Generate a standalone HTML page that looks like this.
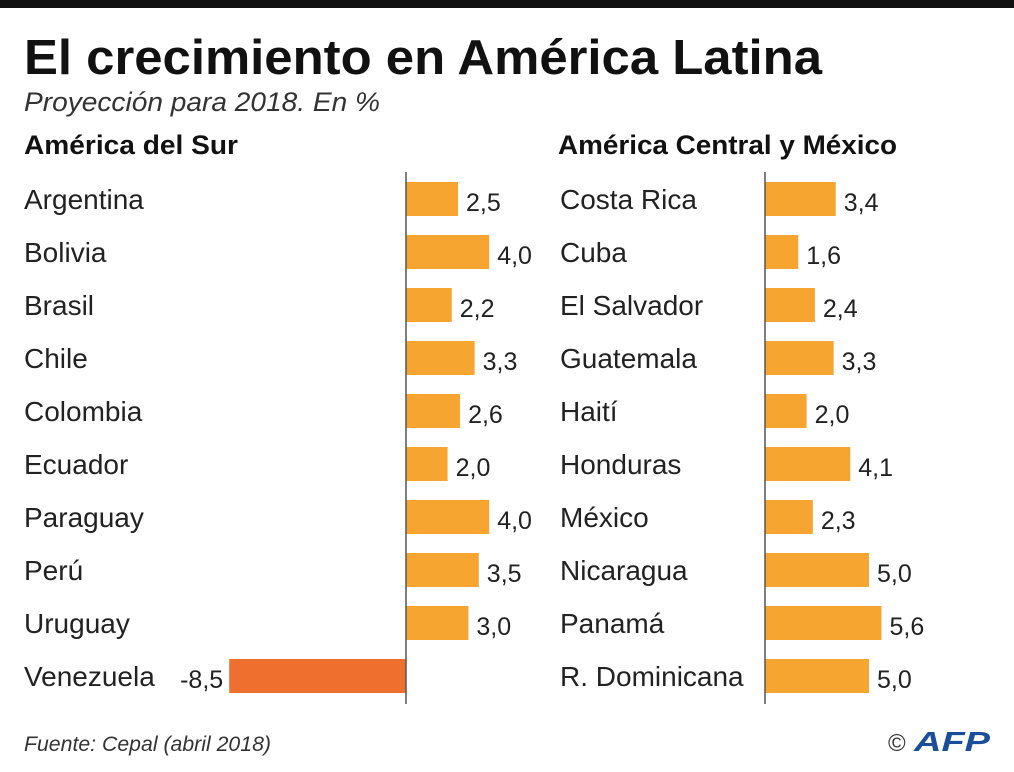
<!DOCTYPE html>
<html><head><meta charset="utf-8"><style>
body{margin:0;width:1014px;height:767px;background:#fff;overflow:hidden;font-family:"Liberation Sans",sans-serif;}
svg text{font-family:"Liberation Sans",sans-serif;}
</style></head><body>
<svg width="1014" height="767" viewBox="0 0 1014 767">
<rect x="0" y="0" width="1014" height="8" fill="#111"/>
<text x="24" y="74" font-size="49" font-weight="bold" fill="#111" textLength="798" lengthAdjust="spacingAndGlyphs">El crecimiento en América Latina</text>
<text x="24" y="111" font-size="27" font-style="italic" fill="#333" textLength="356" lengthAdjust="spacingAndGlyphs">Proyección para 2018. En %</text>
<text x="24" y="154" font-size="27" font-weight="bold" fill="#111" textLength="214" lengthAdjust="spacingAndGlyphs">América del Sur</text>
<text x="558" y="154" font-size="27" font-weight="bold" fill="#111" textLength="339" lengthAdjust="spacingAndGlyphs">América Central y México</text>
<g id="left"></g><g id="right"></g>
<text x="24" y="751" font-size="21" font-style="italic" fill="#333" textLength="247" lengthAdjust="spacingAndGlyphs">Fuente: Cepal (abril 2018)</text>
<text x="888" y="751" font-size="24" fill="#333">©</text>
<text x="914" y="751" font-size="28" font-weight="bold" font-style="italic" fill="#1a4e9a" textLength="76" lengthAdjust="spacingAndGlyphs">AFP</text>
</svg>
<script>
const southCountries=["Argentina","Bolivia","Brasil","Chile","Colombia","Ecuador","Paraguay","Perú","Uruguay","Venezuela"];
const southValues=[2.5,4.0,2.2,3.3,2.6,2.0,4.0,3.5,3.0,-8.5];
const centralCountries=["Costa Rica","Cuba","El Salvador","Guatemala","Haití","Honduras","México","Nicaragua","Panamá","R. Dominicana"];
const centralValues=[3.4,1.6,2.4,3.3,2.0,4.1,2.3,5.0,5.6,5.0];
const NS="http://www.w3.org/2000/svg";
function mk(tag,attrs,parent){const e=document.createElementNS(NS,tag);for(const k in attrs)e.setAttribute(k,attrs[k]);parent.appendChild(e);return e;}
function panel(gid,cats,vals,labelX,zeroX,prefix){
  const g=document.getElementById(gid);
  const scale=20.8, y0=199, step=53, h=34;
  const xS=v=>zeroX+v*scale;
  cats.forEach((c,i)=>{
    const cy=y0+i*step, v=vals[i];
    const t=mk("text",{x:labelX,y:cy+10,"font-size":28,fill:"#222"},g);t.textContent=c;
    
    
    const x1=Math.min(xS(0),xS(v)), w=Math.abs(xS(v)-xS(0));
    const r=mk("rect",{x:x1,y:cy-h/2,width:w,height:h,fill:v<0?"#ef6f2e":"#f7a531"},g);
    
    
    const lt=mk("text",{x:v<0?x1-6:xS(v)+8,y:cy+12,"font-size":25,fill:"#222","text-anchor":v<0?"end":"start"},g);
    lt.textContent=v.toFixed(1).replace(".",",");
    
    
  });
  const ax=mk("line",{x1:zeroX,x2:zeroX,y1:172,y2:704,stroke:"#555","stroke-width":1.5},g);
  
  
}
panel("left",southCountries,southValues,24,406,"south");
panel("right",centralCountries,centralValues,560,765,"central");
</script>
</body></html>
